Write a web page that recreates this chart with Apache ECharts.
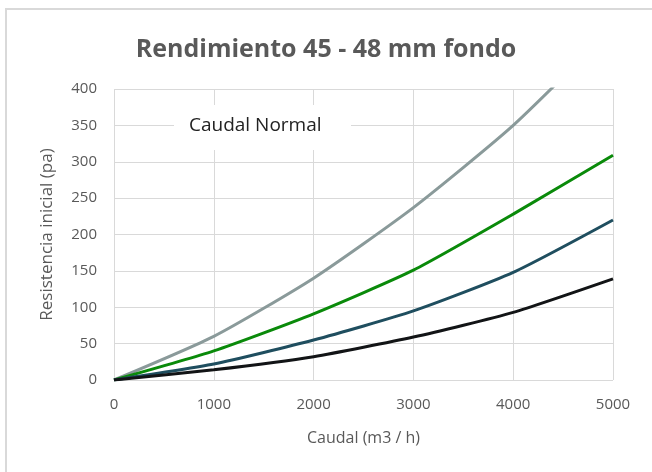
<!DOCTYPE html>
<html>
<head>
<meta charset="utf-8">
<script src="https://cdn.jsdelivr.net/npm/echarts@6/dist/echarts.min.js"></script>
<style>
  html, body { margin: 0; padding: 0; background: #fff; }
  #chart { width: 652px; height: 472px; }
</style>
</head>
<body>
<div id="chart"></div>
<script>
// caudal (m3/h)
var caudal = [0, 1000, 2000, 3000, 4000, 5000];
// resistencia inicial (pa), una serie por curva
var serieGris = [0, 60, 140, 237, 350, 485];
var serieVerde = [0, 40, 91, 151, 228, 309];
var serieAzul = [0, 22, 55, 95, 148, 220];
var serieNegra = [0, 14, 32, 59, 93, 139];

function pares(vals) {
  return caudal.map(function (x, i) { return [x, vals[i]]; });
}

var myChart = echarts.init(document.getElementById('chart'));
var txt = '#595959';
var font = "'Open Sans', 'Noto Sans', sans-serif";

var option = {
  animation: false,
  textStyle: { fontFamily: font },
  title: {
    text: 'Rendimiento 45 - 48 mm fondo',
    left: 'center',
    top: 32,
    textStyle: { fontSize: 25, fontWeight: 'bold', color: txt, fontFamily: font }
  },
  graphic: [
    {
      type: 'rect',
      shape: { x: 6, y: 9, width: 660, height: 480 },
      style: { fill: 'none', stroke: '#d9d9d9', lineWidth: 2 },
      z: 0
    },
    {
      type: 'rect',
      shape: { x: 174, y: 105, width: 177, height: 45 },
      style: { fill: '#fff' },
      z: 10
    },
    {
      type: 'text',
      left: 189,
      top: 116,
      style: { text: 'Caudal Normal', fill: '#222', font: "19px 'Open Sans', sans-serif" },
      z: 11
    }
  ],
  grid: { left: 114, right: 39, top: 89, bottom: 92 },
  xAxis: {
    type: 'value',
    min: 0,
    max: 5000,
    interval: 1000,
    name: 'Caudal (m3 / h)',
    nameLocation: 'middle',
    nameGap: 50,
    nameTextStyle: { color: txt, fontSize: 16 },
    axisLine: { show: false },
    axisTick: { show: false },
    axisLabel: { color: txt, fontSize: 15, margin: 17, formatter: function (v) { return String(v); } },
    splitLine: { lineStyle: { color: '#d9d9d9', width: 1 } }
  },
  yAxis: {
    type: 'value',
    min: 0,
    max: 400,
    interval: 50,
    name: 'Resistencia inicial (pa)',
    nameLocation: 'middle',
    nameGap: 58,
    nameTextStyle: { color: txt, fontSize: 17 },
    axisLine: { show: false },
    axisTick: { show: false },
    axisLabel: { color: txt, fontSize: 15, margin: 17 },
    splitLine: { lineStyle: { color: '#d9d9d9', width: 1 } }
  },
  series: [
    { name: 'gris', type: 'line', data: pares(serieGris), smooth: 0.2, symbol: 'none', lineStyle: { color: '#8a9a9a', width: 3 } },
    { name: 'verde', type: 'line', data: pares(serieVerde), smooth: 0.2, symbol: 'none', lineStyle: { color: '#0a8a0a', width: 3 } },
    { name: 'azul', type: 'line', data: pares(serieAzul), smooth: 0.2, symbol: 'none', lineStyle: { color: '#1f4e5f', width: 3 } },
    { name: 'negra', type: 'line', data: pares(serieNegra), smooth: 0.2, symbol: 'none', lineStyle: { color: '#121416', width: 3 } }
  ]
};
myChart.setOption(option);
</script>
</body>
</html>
